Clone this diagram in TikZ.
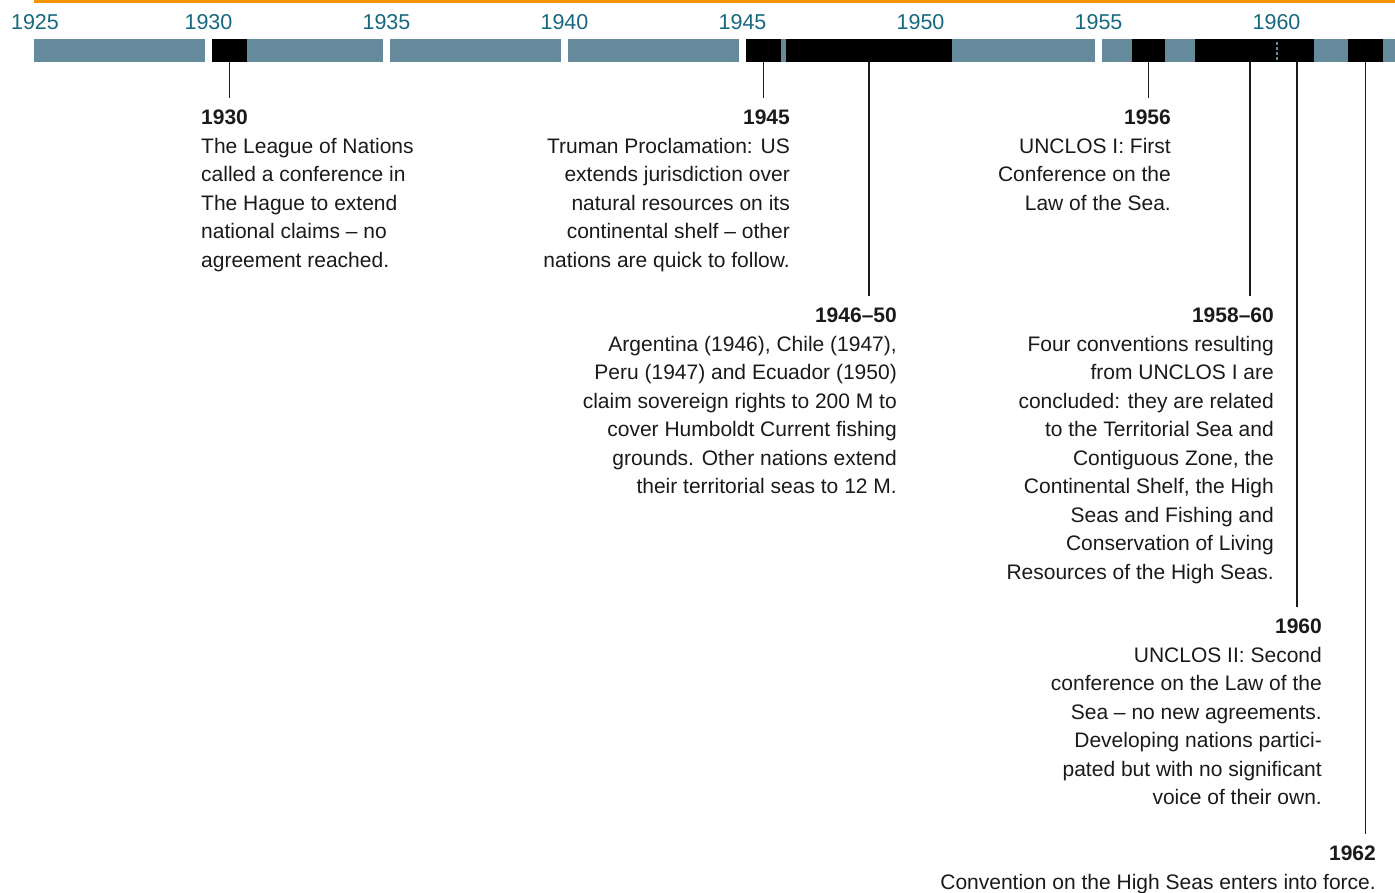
\documentclass[tikz,border=0pt]{standalone}
\usepackage{fontspec}
\setmainfont{Liberation Sans}
\definecolor{bargray}{RGB}{100,138,156}
\definecolor{yearteal}{RGB}{22,104,128}
\definecolor{toprule}{RGB}{243,148,0}
\definecolor{ink}{RGB}{26,26,26}

\begin{document}
\begin{tikzpicture}[x=1pt,y=-1pt,
  evbox/.style={fill=black,inner sep=0pt,minimum height=23pt},
  year/.style={text=yearteal,font=\fontsize{21.5}{24}\selectfont,inner sep=0pt},
  note/.style={text=ink,inner sep=0pt,font=\fontsize{21}{28.5}\selectfont},
  pin/.style={draw=ink,line width=1.4pt}]
\useasboundingbox (0,0) rectangle (1395,892);
% top rule and time bar
\fill[toprule] (34,0) rectangle (1395,3);
\fill[bargray] (34,39) rectangle (1395,62);
\foreach \yr in {1930,1935,...,1955}
  \fill[white] ({27+35.6*(\yr-1925)},39) rectangle ++(7,23);
% year labels
\node[year] (y1925) at (35,22) {1925};
\foreach \yr in {1930,1935,...,1960}
  \node[year] (y\yr) at ({30.5+35.6*(\yr-1925)},22) {\yr};
% event boxes
\node[evbox, minimum width=35pt] (b1930) at (229.5,50.5) {};
\node[evbox, minimum width=35pt] (b1945) at (763.5,50.5) {};
\node[evbox, minimum width=166.3pt] (b4650) at (868.85,50.5) {};
\node[evbox, minimum width=33pt] (b1956) at (1148.5,50.5) {};
\node[evbox, minimum width=119pt] (b5860) at (1254.5,50.5) {};
\node[evbox, minimum width=35pt] (b1962) at (1365.5,50.5) {};
\draw[bargray, line width=2.2pt, dash pattern=on 2.5pt off 2.5pt] (1277,42) -- (1277,60);
\coordinate (p5860) at ([xshift=-4.5pt]b5860.south);
\coordinate (p1960) at ([xshift=42.5pt]b5860.south);
% notes
\node[note, anchor=north west, align=left] (t1930) at (201,110)
  {\textbf{1930}\\The League of Nations\\called a conference in\\The Hague to extend\\national claims -- no\\agreement reached.};
\node[note, anchor=north east, align=right] (t1945) at (790,110)
  {\textbf{1945}\\Truman Proclamation: US\\extends jurisdiction over\\natural resources on its\\continental shelf -- other\\nations are quick to follow.};
\node[note, anchor=north east, align=right] (t4650) at (897,308)
  {\textbf{1946--50}\\Argentina (1946), Chile (1947),\\Peru (1947) and Ecuador (1950)\\claim sovereign rights to 200 M to\\cover Humboldt Current fishing\\grounds. Other nations extend\\their territorial seas to 12 M.};
\node[note, anchor=north east, align=right] (t1956) at (1171,110)
  {\textbf{1956}\\UNCLOS I: First\\Conference on the\\Law of the Sea.};
\node[note, anchor=north east, align=right] (t5860) at (1274,308)
  {\textbf{1958--60}\\Four conventions resulting\\from UNCLOS I are\\concluded: they are related\\to the Territorial Sea and\\Contiguous Zone, the\\Continental Shelf, the High\\Seas and Fishing and\\Conservation of Living\\Resources of the High Seas.};
\node[note, anchor=north east, align=right] (t1960) at (1322,619)
  {\textbf{1960}\\UNCLOS II: Second\\conference on the Law of the\\Sea -- no new agreements.\\Developing nations partici-\\pated but with no significant\\voice of their own.};
\node[note, anchor=north east, align=right] (t1962) at (1376,846)
  {\textbf{1962}\\Convention on the High Seas enters into force.};
% pins
\draw[pin] (b1930.south) -- ([yshift=12pt]b1930.south |- t1930.north);
\draw[pin] (b1945.south) -- ([yshift=12pt]b1945.south |- t1945.north);
\draw[pin] (b4650.south) -- ([yshift=12pt]b4650.south |- t4650.north);
\draw[pin] (b1956.south) -- ([yshift=12pt]b1956.south |- t1956.north);
\draw[pin] (p5860) -- ([yshift=12pt]p5860 |- t5860.north);
\draw[pin] (p1960) -- ([yshift=12pt]p1960 |- t1960.north);
\draw[pin] (b1962.south) -- ([yshift=12pt]b1962.south |- t1962.north);
\end{tikzpicture}
\end{document}
